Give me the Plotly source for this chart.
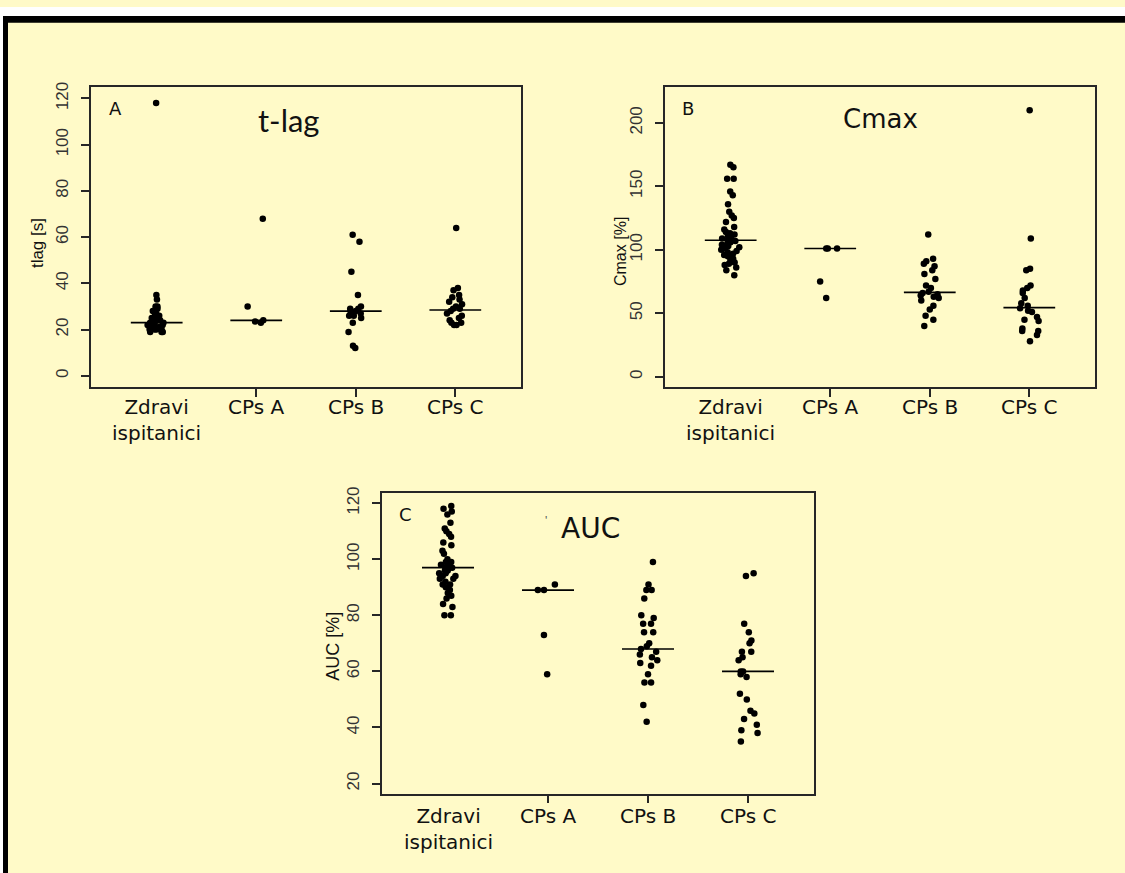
import plotly.graph_objects as go

# ---------------- data ----------------
categories = ["Zdravi<br>ispitanici", "CPs A", "CPs B", "CPs C"]

tlag_zdravi = [118, 35, 33, 30, 30, 29, 28, 28, 27, 26, 26, 25, 25, 25, 24, 24, 24, 23, 23, 23,
               23, 22, 22, 22, 22, 21, 21, 21, 21, 20, 20, 20, 20, 19, 19, 19]
tlag_cpsA = [68, 30, 24, 23.5, 23]
tlag_cpsB = [61, 58, 45, 35, 30, 29, 29, 28, 28, 27, 26, 26, 25, 23, 19, 13, 12]
tlag_cpsC = [64, 38, 37, 35, 34, 33, 32, 31, 30, 29, 29, 28, 27, 26, 25, 24, 23, 23, 22, 22]
tlag_medians = [23, 24, 28, 28.5]

cmax_zdravi = [167, 165, 156, 156, 146, 143, 136, 130, 127, 125, 122, 118, 116, 114, 113, 112,
               111, 110, 109, 108, 108, 107, 106, 105, 104, 103, 102, 101, 100, 99, 98, 97, 96,
               95, 93, 92, 90, 89, 88, 86, 84, 80]
cmax_cpsA = [101, 101, 101, 75, 62]
cmax_cpsB = [112, 93, 91, 89, 87, 84, 81, 77, 72, 70, 67, 66, 65, 64, 63, 62, 60, 56, 53, 48, 45, 40]
cmax_cpsC = [210, 109, 85, 84, 72, 70, 68, 66, 62, 58, 56, 54, 52, 51, 47, 45, 44, 38, 36, 36, 33, 28]
cmax_medians = [107.5, 101, 66.5, 54.5]

auc_zdravi = [119, 118, 117, 116, 113, 111, 110, 109, 108, 106, 105, 103, 102, 100, 99, 99, 98, 98,
              97, 97, 97, 96, 96, 95, 95, 94, 94, 93, 93, 92, 91, 91, 90, 89, 88, 87, 86, 84, 83, 80, 80]
auc_cpsA = [91, 89, 89, 73, 59]
auc_cpsB = [99, 91, 89, 89, 86, 80, 79, 77, 77, 74, 74, 70, 69, 68, 67, 66, 65, 64, 63, 62, 59, 56, 56, 48, 42]
auc_cpsC = [95, 94, 77, 74, 71, 70, 67, 67, 65, 64, 60, 60, 59, 58, 52, 50, 46, 45, 43, 41, 39, 38, 35]
auc_medians = [97, 89, 68, 60]

yticks_tlag = [0, 20, 40, 60, 80, 100, 120]
yticks_cmax = [0, 50, 100, 150, 200]
yticks_auc = [20, 40, 60, 80, 100, 120]

panels = [
    dict(groups=[tlag_zdravi, tlag_cpsA, tlag_cpsB, tlag_cpsC], medians=tlag_medians,
         yticks=yticks_tlag, yrange=[-4.8, 124.8], title="t-lag", letter="A", ylabel="tlag [s]"),
    dict(groups=[cmax_zdravi, cmax_cpsA, cmax_cpsB, cmax_cpsC], medians=cmax_medians,
         yticks=yticks_cmax, yrange=[-8, 228], title="Cmax", letter="B", ylabel="Cmax [%]"),
    dict(groups=[auc_zdravi, auc_cpsA, auc_cpsB, auc_cpsC], medians=auc_medians,
         yticks=yticks_auc, yrange=[16.4, 123.6], title="AUC", letter="C", ylabel="AUC [%]"),
]

# ---------------- layout geometry (pixels) ----------------
W, H = 1125, 873
BG = "#FFFAC8"
INK = "#262626"


def fx(x):
    return x / W


def fy(y):
    return 1 - y / H


boxes = [  # left, right, top, bottom in pixels
    (91, 521, 81, 383),
    (665, 1095, 81, 383),
    (382, 814, 490, 793),
]
letter_pos = [(115, 102), (688, 102), (405, 512)]
title_pos = [(288, 114), (880, 113), (590, 526)]
title_fonts = [dict(family="Lato", size=31), dict(family="DejaVu Sans", size=26),
               dict(family="DejaVu Sans", size=28)]
ylabel_pos = [(37, 238), (620, 247), (333, 645)]
ylabel_fonts = [dict(family="Liberation Sans", size=17),
                dict(family="Liberation Sans", size=16),
                dict(family="Liberation Sans", size=18)]
catlabel_top = [389, 389, 801]

fig = go.Figure()
annotations = []
layout_axes = {}

for k, (p, box) in enumerate(zip(panels, boxes)):
    sfx = "" if k == 0 else str(k + 1)
    xref, yref = "x" + sfx, "y" + sfx
    xs, ys = [], []
    for i, g in enumerate(p["groups"]):
        xs += [i + 1] * len(g)
        ys += g
    fig.add_trace(go.Box(
        x=xs, y=ys, xaxis=xref, yaxis=yref,
        boxpoints="all", jitter=0.42, pointpos=0,
        marker=dict(color="black", size=6.5),
        line=dict(width=0), fillcolor="rgba(0,0,0,0)", whiskerwidth=0,
        showlegend=False, hoverinfo="y",
    ))
    mx, my = [], []
    for i, m in enumerate(p["medians"]):
        mx += [i + 1 - 0.26, i + 1 + 0.26, None]
        my += [m, m, None]
    fig.add_trace(go.Scatter(x=mx, y=my, mode="lines", xaxis=xref, yaxis=yref,
                             line=dict(color="black", width=1.6), showlegend=False,
                             hoverinfo="skip"))
    l, r, t, b = box
    layout_axes["xaxis" + sfx] = dict(
        domain=[fx(l), fx(r)], range=[0.34, 4.66], anchor=yref,
        showline=True, linecolor=INK, linewidth=1.5, mirror=True,
        ticks="outside", ticklen=8, tickwidth=1.5, tickcolor=INK,
        tickvals=[2, 3, 4], showticklabels=False, showgrid=False, zeroline=False,
    )
    layout_axes["yaxis" + sfx] = dict(
        domain=[fy(b), fy(t)], range=p["yrange"], anchor=xref,
        showline=True, linecolor=INK, linewidth=1.5, mirror=True,
        ticks="outside", ticklen=8, tickwidth=1.5, tickcolor=INK,
        tickvals=p["yticks"], tickangle=-90, ticklabelstandoff=6,
        tickfont=dict(family="Liberation Sans", size=17, color="#333333"),
        showgrid=False, zeroline=False,
    )
    # category labels
    for i, c in enumerate(categories):
        annotations.append(dict(
            x=i + 1, y=fy(catlabel_top[k]), xref=xref, yref="paper",
            text=c, showarrow=False, xanchor="center", yanchor="top",
            font=dict(family="DejaVu Sans", size=20, color="#111111"),
        ))
    # panel letter
    annotations.append(dict(
        x=fx(letter_pos[k][0]), y=fy(letter_pos[k][1]), xref="paper", yref="paper",
        text=p["letter"], showarrow=False, xanchor="center", yanchor="middle",
        font=dict(family="DejaVu Sans", size=18, color="#111111"),
    ))
    # panel title
    annotations.append(dict(
        x=fx(title_pos[k][0]), y=fy(title_pos[k][1]), xref="paper", yref="paper",
        text=p["title"], showarrow=False, xanchor="center", yanchor="middle",
        font=dict(color="#111111", **title_fonts[k]),
    ))
    # y axis label
    annotations.append(dict(
        x=fx(ylabel_pos[k][0]), y=fy(ylabel_pos[k][1]), xref="paper", yref="paper",
        text=p["ylabel"], showarrow=False, textangle=-90, xanchor="center", yanchor="middle",
        font=dict(color="#111111", **ylabel_fonts[k]),
    ))

# small stray mark left of "AUC"
annotations.append(dict(x=fx(546), y=fy(518), xref="paper", yref="paper", text="'",
                        showarrow=False, font=dict(family="Liberation Sans", size=12, color="#555555")))

shapes = [
    dict(type="rect", xref="paper", yref="paper", x0=0, x1=1, y0=fy(9), y1=1,
         fillcolor="white", line=dict(width=0)),
    dict(type="rect", xref="paper", yref="paper", x0=0, x1=fx(3), y0=0, y1=1,
         fillcolor="white", line=dict(width=0)),
    dict(type="rect", xref="paper", yref="paper", x0=fx(3), x1=1, y0=fy(16), y1=fy(9),
         fillcolor="black", line=dict(width=0)),
    dict(type="rect", xref="paper", yref="paper", x0=fx(3), x1=fx(8), y0=0, y1=fy(9),
         fillcolor="black", line=dict(width=0)),
]

fig.update_layout(
    width=W, height=H, margin=dict(l=0, r=0, t=0, b=0),
    paper_bgcolor=BG, plot_bgcolor=BG,
    showlegend=False, annotations=annotations, shapes=shapes,
    **layout_axes,
)

fig.write_html("out.html")
